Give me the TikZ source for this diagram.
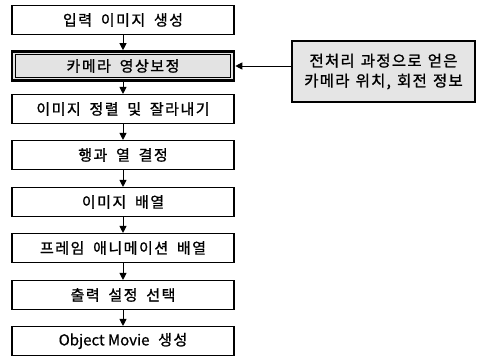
\documentclass[tikz,border=0pt]{standalone}
\usepackage{fontspec}
\newfontfamily\kr[LetterSpace=10,FakeBold=1.2,WordSpace=1.8]{Noto Sans CJK KR}
\newfontfamily\krside[LetterSpace=8,FakeBold=1.2,WordSpace=1.3]{Noto Sans CJK KR}
\newfontfamily\krlat[FakeBold=0.6]{Noto Sans CJK KR}
\usetikzlibrary{arrows.meta}
\tikzset{
  stepbox/.style={draw=black, line width=1.1pt, fill=white, minimum width=222pt, minimum height=29pt, inner sep=0pt, font=\kr\fontsize{15}{17}\selectfont},
  cambox/.style={stepbox, line width=2.6pt, fill=gray!22},
  sidebox/.style={draw=black, line width=1.1pt, fill=gray!20, minimum width=183pt, minimum height=61pt, inner sep=0pt, align=center, font=\krside\fontsize{15.5}{20}\selectfont},
  arr/.style={draw=black, line width=0.9pt, -{Triangle[width=7pt,length=7pt]}}
}
\begin{document}
\begin{tikzpicture}[x=1pt,y=-1pt]
\useasboundingbox (0,0) rectangle (478,358);
\node[stepbox] (b1) at (123,20) {입력 이미지 생성};
\node[cambox] (b2) at (123,66) {카메라 영상보정};
\draw[line width=0.7pt] ([shift={(4.5pt,-4.5pt)}]b2.north west) rectangle ([shift={(-4.5pt,4.5pt)}]b2.south east);
\node[stepbox] (b3) at (123,109) {이미지 정렬 및 잘라내기};
\node[stepbox] (b4) at (123,155) {행과 열 결정};
\node[stepbox] (b5) at (123,202) {이미지 배열};
\node[stepbox] (b6) at (123,248) {프레임 애니메이션 배열};
\node[stepbox] (b7) at (123,295) {출력 설정 선택};
\node[stepbox] (b8) at (123,341) {{\krlat Object Movie} 생성};
\node[sidebox] (side) at (383.5,71.5) {전처리 과정으로 얻은\\카메라 위치, 회전 정보};
\draw[arr] (b1) -- (b2);
\draw[arr] (b2) -- (b3);
\draw[arr] (b3) -- (b4);
\draw[arr] (b4) -- (b5);
\draw[arr] (b5) -- (b6);
\draw[arr] (b6) -- (b7);
\draw[arr] (b7) -- (b8);
\draw[arr] (side.west |- b2) -- (b2.east);
\end{tikzpicture}
\end{document}
